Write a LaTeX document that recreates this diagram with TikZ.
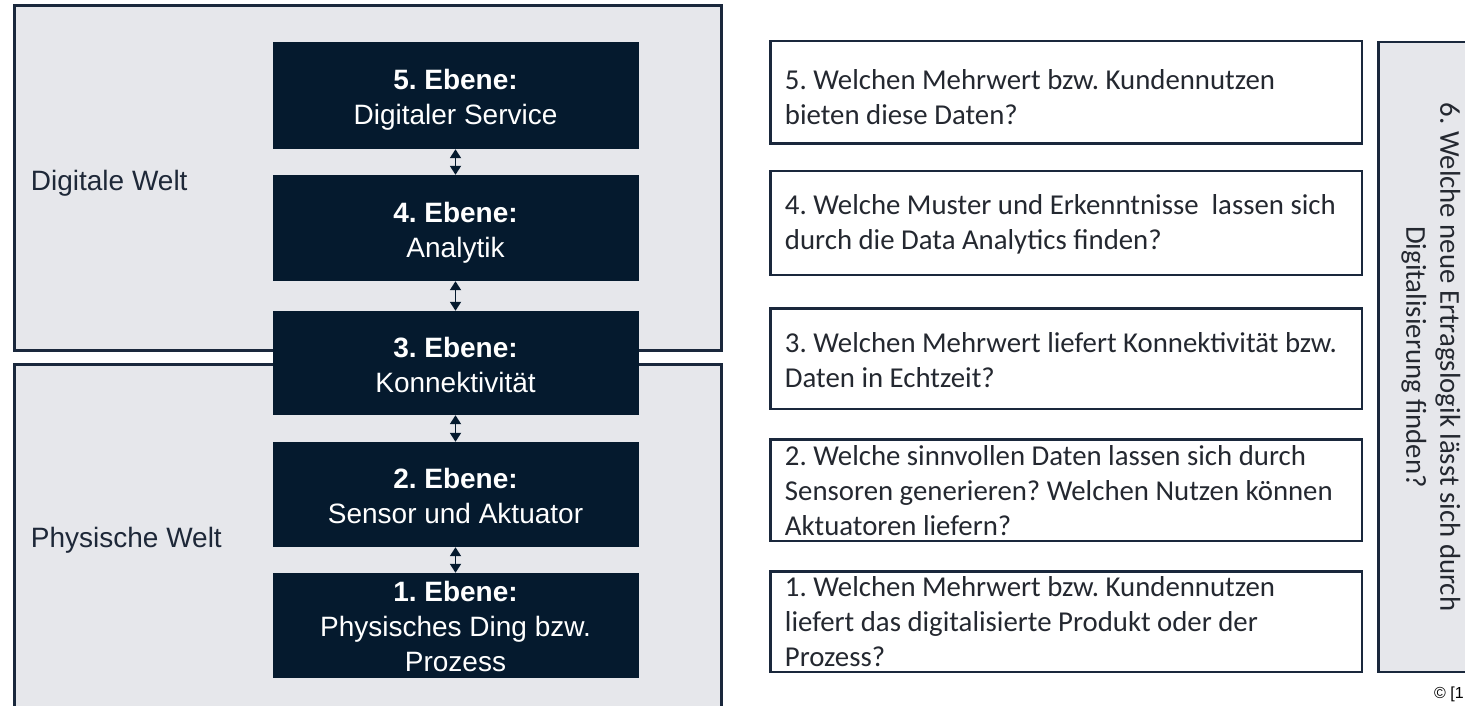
\documentclass[tikz,border=0pt]{standalone}
\usepackage{fontspec}
\setmainfont{Liberation Sans}
\newfontfamily\calibri{Carlito}
\usetikzlibrary{arrows.meta}
\definecolor{navy}{RGB}{5,26,46}
\definecolor{edge}{RGB}{26,40,60}
\definecolor{panel}{RGB}{230,231,235}
\definecolor{qtext}{RGB}{36,40,48}
\definecolor{ltext}{RGB}{30,40,56}
\begin{document}
\frenchspacing
\begin{tikzpicture}[x=1pt,y=-1pt,
  panelbox/.style={draw=edge, line width=3pt, fill=panel},
  layerbox/.style={fill=navy, minimum width=366pt, inner sep=0pt},
  layertext/.style={text=white, inner sep=0pt, align=center,
    font=\fontsize{28}{35}\selectfont},
  qbox/.style={draw=edge, line width=2.5pt, fill=white, minimum width=591.5pt, inner sep=0pt},
  qlabel/.style={anchor=west, text=qtext, inner sep=0pt, align=left,
    font=\calibri\fontsize{28.8}{35}\selectfont},
  worldlabel/.style={anchor=base west, text=ltext, inner sep=0pt,
    font=\fontsize{28}{34}\selectfont},
  link/.style={draw=navy, line width=1.8pt,
    {Triangle[width=11pt,length=9pt]}-{Triangle[width=11pt,length=9pt]}},
]
\useasboundingbox (0,0) rectangle (1465,706);
\clip (0,0) rectangle (1465,706);

% panels
\draw[panelbox] (14.5,6) rectangle (721,350.5);
\draw[panelbox] (14.5,364.5) rectangle (721,730);
\node[worldlabel] (dw) at (30.7,190) {Digitale Welt};
\node[worldlabel] (pw) at (30.7,547) {Physische Welt};

% layer boxes
\node[layerbox, minimum height=107pt] (b5) at (455.5,95.5) {};
\node[layerbox, minimum height=106pt] (b4) at (455.5,228) {};
\node[layerbox, minimum height=104pt] (b3) at (455.5,363) {};
\node[layerbox, minimum height=105pt] (b2) at (455.5,494.5) {};
\node[layerbox, minimum height=105pt] (b1) at (455.5,625.5) {};
\node[layertext, yshift=-4.5pt] (t5) at (b5.center) {\textbf{5. Ebene:}\\Digitaler Service};
\node[layertext, yshift=-4.5pt] (t4) at (b4.center) {\textbf{4. Ebene:}\\Analytik};
\node[layertext, yshift=-2pt] (t3) at (b3.center) {\textbf{3. Ebene:}\\Konnektivität};
\node[layertext, yshift=-1pt] (t2) at (b2.center) {\textbf{2. Ebene:}\\Sensor und Aktuator};
\node[layertext, yshift=-1pt] (t1) at (b1.center) {\textbf{1. Ebene:}\\Physisches Ding bzw.\\Prozess};

\draw[link] (b5.south) -- (b4.north);
\draw[link] (b4.south) -- (b3.north);
\draw[link] (b3.south) -- (b2.north);
\draw[link] (b2.south) -- (b1.north);

% question boxes
\node[qbox, minimum height=102.5pt] (q5) at (1066,92.5) {};
\node[qbox, minimum height=103.5pt] (q4) at (1066,223) {};
\node[qbox, minimum height=100.5pt] (q3) at (1066,358.5) {};
\node[qbox, minimum height=101.5pt] (q2) at (1066,490) {};
\node[qbox, minimum height=100.5pt] (q1) at (1066,621.5) {};
\node[qlabel, xshift=15.75pt, yshift=-4.5pt] (l5) at (q5.west)
  {5. Welchen Mehrwert bzw. Kundennutzen\\bieten diese Daten?};
\node[qlabel, xshift=15.75pt, yshift=-1.5pt] (l4) at (q4.west)
  {4. Welche Muster und Erkenntnisse\ \ lassen sich\\durch die Data Analytics finden?};
\node[qlabel, xshift=15.75pt, yshift=-1.5pt] (l3) at (q3.west)
  {3. Welchen Mehrwert liefert Konnektivität bzw.\\Daten in Echtzeit?};
\node[qlabel, xshift=15.75pt, yshift=-0.5pt] (l2) at (q2.west)
  {2. Welche sinnvollen Daten lassen sich durch\\Sensoren generieren? Welchen Nutzen können\\Aktuatoren liefern?};
\node[qlabel, xshift=15.75pt] (l1) at (q1.west)
  {1. Welchen Mehrwert bzw. Kundennutzen\\liefert das digitalisierte Produkt oder der\\Prozess?};

% tall box
\draw[draw=edge, line width=2.5pt, fill=panel] (1378.25,42) rectangle (1490,671.75);
\node[rotate=-90, align=center, text=qtext, inner sep=0pt,
  font=\calibri\fontsize{28.8}{34}\selectfont] (q6) at (1431,357)
  {6. Welche neue Ertragslogik lässt sich durch\\Digitalisierung finden?};

\node[anchor=base west, inner sep=0pt, text=black, font=\fontsize{16}{18}\selectfont] (cp) at (1434,698) {© [1};
\end{tikzpicture}
\end{document}
